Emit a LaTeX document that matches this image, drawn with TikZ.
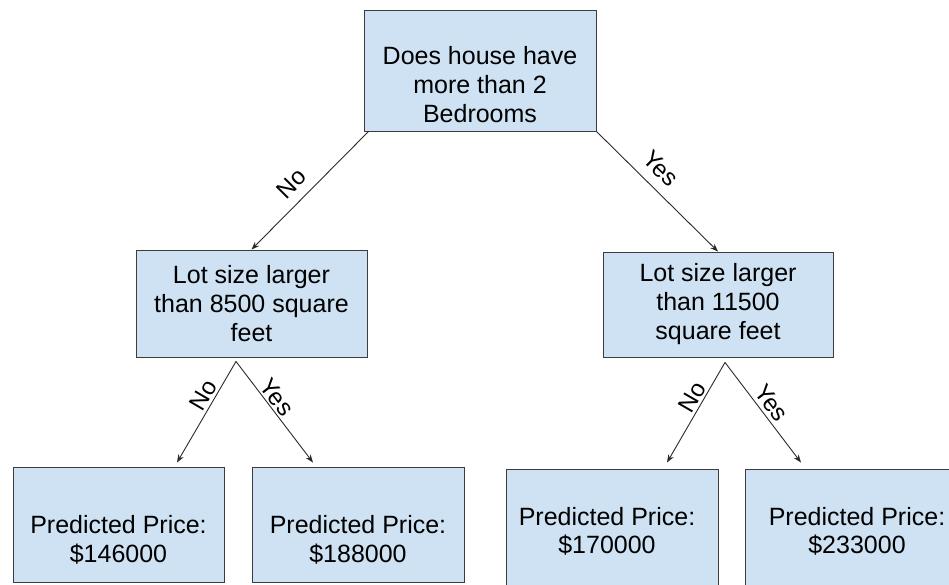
\documentclass[tikz,border=0pt]{standalone}
\usepackage{fontspec}
\setmainfont{Liberation Sans}
\usetikzlibrary{arrows.meta}
\definecolor{boxfill}{HTML}{CFE2F3}
\definecolor{boxline}{HTML}{3C3C3C}
\definecolor{connline}{HTML}{2A2A2A}
\begin{document}
\begin{tikzpicture}[x=1pt,y=-1pt,
  box/.style={draw=boxline, fill=boxfill, line width=0.9pt, inner sep=0pt,
    align=center, font=\fontsize{25}{29}\selectfont},
  boxtext/.style={align=center, inner sep=0pt, font=\fontsize{25}{28.5}\selectfont},
  conn/.style={draw=connline, line width=0.9pt, -{Stealth[length=8pt,width=6pt]}},
  lab/.style={font=\fontsize{24}{28}\selectfont, sloped, above, inner sep=2pt}]
\clip (0,0) rectangle (949,585);
\fill[white] (0,0) rectangle (949,585);

% root
\node[box, minimum width=232pt, minimum height=121pt,
  label={[boxtext, font=\fontsize{25}{29}\selectfont, yshift=-14pt]center:{Does house have\\more than 2\\Bedrooms}}]
  (root) at (480,70.5) {};

% middle
\node[box, minimum width=231pt, minimum height=107pt] (m1) at (251.5,303.5)
  {Lot size larger\\than 8500 square\\feet};
\node[box, minimum width=230pt, minimum height=105pt] (m2) at (718,304.5)
  {Lot size larger\\than 11500\\square feet};

% leaves
\node[box, minimum width=211pt, minimum height=115pt,
  label={[boxtext, yshift=-15.5pt]center:{Predicted Price:\\\$146000}}]
  (l1) at (118.5,524.5) {};
\node[box, minimum width=212pt, minimum height=115pt,
  label={[boxtext, yshift=-15.5pt]center:{Predicted Price:\\\$188000}}]
  (l2) at (358,524.5) {};
\node[box, minimum width=212pt, minimum height=125pt,
  label={[boxtext, xshift=-5pt, yshift=0pt]center:{Predicted Price:\\\$170000}}]
  (l3) at (612,531.5) {};
\node[box, minimum width=224pt, minimum height=125pt,
  label={[boxtext, xshift=0pt, yshift=0pt]center:{Predicted Price:\\\$233000}}]
  (l4) at (857,531.5) {};

% connectors
\draw[conn] ([xshift=5pt]root.south west) -- node[lab, pos=0.55, above=7.5pt] {No} (m1.north);
\draw[conn] (root.south east) -- node[lab, pos=0.42, above=8pt] {Yes} (m2.north);

\draw[conn] ([xshift=-15.5pt,yshift=-4pt]m1.south) -- node[lab, pos=0.39] {No} ([xshift=58.5pt,yshift=4pt]l1.north);
\draw[conn] ([xshift=-15.5pt,yshift=-4pt]m1.south) -- node[lab, pos=0.42] {Yes} ([xshift=-45pt,yshift=4pt]l2.north);

\draw[conn] ([xshift=7pt,yshift=-5pt]m2.south) -- node[lab, pos=0.40] {No} ([xshift=55pt,yshift=6pt]l3.north);
\draw[conn] ([xshift=7pt,yshift=-5pt]m2.south) -- node[lab, pos=0.48, above=2pt] {Yes} ([xshift=-56pt,yshift=6pt]l4.north);
\end{tikzpicture}
\end{document}
